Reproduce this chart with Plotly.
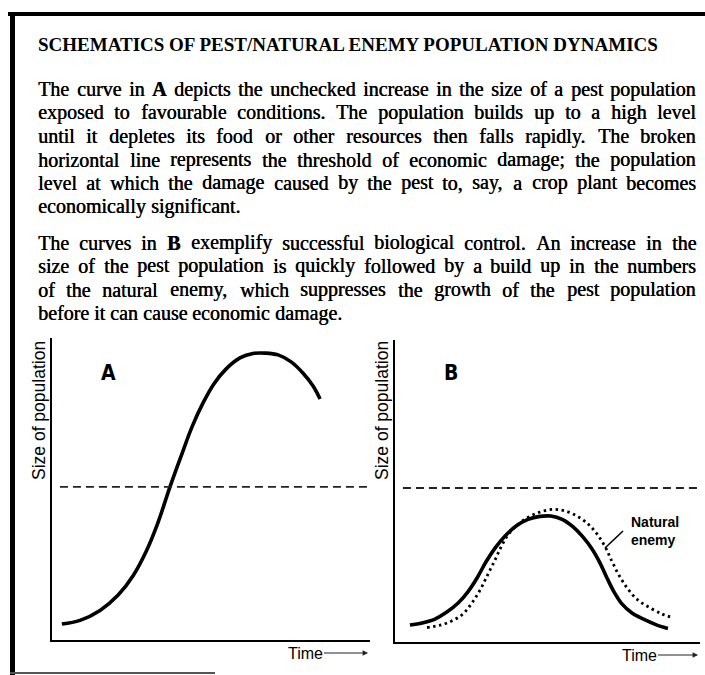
import plotly.graph_objects as go

W, H = 705, 675

# ---------------- data ----------------
# Panel A: unchecked pest population (time and size on a 0-100 scale)
time_a = [3.1, 8.8, 15.1, 20.8, 25.5, 29.6, 33.3, 37.1, 40.6, 44.0, 47.5, 50.9, 54.7, 59.1,
          63.2, 67.0, 71.1, 75.2, 78.9, 82.1, 84.3]
pest_a = [5.3, 6.5, 9.8, 14.9, 21.3, 29.3, 38.8, 50.7, 60.9, 70.5, 78.5, 84.8, 89.7, 93.4,
          94.9, 95.0, 94.4, 92.1, 88.4, 84.1, 79.8]

# Panel B: pest under biological control and its natural enemy
time_b_pest = [4.9, 8.9, 13.1, 17.0, 20.7, 23.9, 26.9, 29.8, 32.8, 36.1, 39.7, 43.6, 47.5,
               51.1, 54.8, 58.4, 61.6, 64.6, 67.2, 69.5, 71.8, 74.4, 77.7, 82.0, 85.9, 89.5]
pest_b = [5.6, 6.3, 7.6, 9.9, 12.9, 16.6, 21.2, 26.5, 31.1, 35.1, 38.4, 40.6, 41.6,
          41.7, 40.6, 38.1, 34.8, 30.8, 26.2, 21.2, 16.6, 12.6, 9.6, 7.3, 5.6, 4.5]
time_b_enemy = [10.5, 14.8, 18.7, 22.3, 25.2, 27.9, 30.5, 32.8, 34.8, 37.0, 39.7, 43.3, 47.5,
                51.8, 55.7, 59.7, 63.3, 66.2, 68.9, 71.1, 73.4, 76.1, 79.3, 83.6, 87.5, 90.2]
enemy_b = [4.8, 5.6, 7.0, 9.3, 12.9, 17.2, 22.5, 27.2, 31.5, 35.4, 38.4, 41.1, 43.0,
           43.9, 43.4, 41.7, 39.1, 35.8, 31.5, 26.8, 22.2, 17.9, 14.2, 11.3, 9.3, 8.3]

# economic damage threshold (same scale) and the span of its broken line
threshold_a = 50.7
threshold_b = 51.0
threshold_span_a = [2.5, 100]
threshold_span_b = [2.6, 100]

title_text = "SCHEMATICS OF PEST/NATURAL ENEMY POPULATION DYNAMICS"
paragraphs = [
    [
        "The curve in <b>A</b> depicts the unchecked increase in the size of a pest population",
        "exposed to favourable conditions. The population builds up to a high level",
        "until it depletes its food or other resources then falls rapidly. The broken",
        "horizontal line represents the threshold of economic damage; the population",
        "level at which the damage caused by the pest to, say, a crop plant becomes",
        "economically significant.",
    ],
    [
        "The curves in <b>B</b> exemplify successful biological control. An increase in the",
        "size of the pest population is quickly followed by a build up in the numbers",
        "of the natural enemy, which suppresses the growth of the pest population",
        "before it can cause economic damage.",
    ],
]
y_label = "Size of population"
x_label = "Time"
enemy_label = "Natural<br>enemy"

# ---------------- helpers ----------------
def px(x):
    return x / W


def py(y):
    return 1 - y / H


# Times advance widths (1/1000 em), used to justify the body text
TIMES = {
    " ": 250, ".": 250, ",": 250, ";": 278, ":": 278, "/": 278, "-": 333,
    "A": 722, "B": 667, "C": 667, "D": 722, "E": 611, "F": 556, "G": 722, "H": 722,
    "I": 333, "J": 389, "K": 722, "L": 611, "M": 889, "N": 722, "O": 722, "P": 556,
    "Q": 722, "R": 667, "S": 556, "T": 611, "U": 722, "V": 722, "W": 944, "X": 722,
    "Y": 722, "Z": 611,
    "a": 444, "b": 500, "c": 444, "d": 500, "e": 444, "f": 333, "g": 500, "h": 500,
    "i": 278, "j": 278, "k": 500, "l": 278, "m": 778, "n": 500, "o": 500, "p": 500,
    "q": 500, "r": 333, "s": 389, "t": 278, "u": 500, "v": 500, "w": 722, "x": 500,
    "y": 500, "z": 444,
}


def word_width(word, size):
    plain = word.replace("<b>", "").replace("</b>", "")
    return sum(TIMES.get(c, 500) for c in plain) * size / 1000.0


SERIF = "Liberation Serif, Times New Roman, serif"
SANS = "Liberation Sans, Arial, Helvetica, sans-serif"
BODY_SIZE = 20
TEXT_LEFT, TEXT_RIGHT = 38, 696
INK = "black"
HEAVY = "0.4px 0 0 black"   # thickens the printed serif text slightly

annotations = []

# heading
annotations.append(dict(
    x=px(TEXT_LEFT), y=py(45), xref="paper", yref="paper", xanchor="left", yanchor="middle",
    text="<b>" + title_text + "</b>", showarrow=False, borderpad=0, borderwidth=0,
    font=dict(family=SERIF, size=19, color=INK),
))

# justified body text, one word per annotation
line_y = [[89, 112.5, 136, 159.5, 183, 206.5], [242.5, 266, 289.5, 313]]
for para, ys in zip(paragraphs, line_y):
    for i, (line, yy) in enumerate(zip(para, ys)):
        words = line.split(" ")
        widths = [word_width(w, BODY_SIZE) for w in words]
        last = i == len(para) - 1
        if last or len(words) == 1:
            gap = 250 * BODY_SIZE / 1000.0
        else:
            gap = (TEXT_RIGHT - TEXT_LEFT - sum(widths)) / (len(words) - 1)
        x = TEXT_LEFT
        for w, ww in zip(words, widths):
            annotations.append(dict(
                x=px(x), y=py(yy), xref="paper", yref="paper", xanchor="left", yanchor="middle",
                text=w, showarrow=False, borderpad=0, borderwidth=0,
                font=dict(family=SERIF, size=BODY_SIZE, color=INK, shadow=HEAVY),
            ))
            x += ww + gap

# ---------------- figure ----------------
fig = go.Figure()

curve_style = dict(color="black", width=3.6, shape="spline", smoothing=1.0)
dash_style = dict(color="#222222", width=1.8, dash="8px,5px")

fig.add_trace(go.Scatter(x=time_a, y=pest_a, mode="lines", line=curve_style,
                         xaxis="x", yaxis="y", hoverinfo="skip"))
fig.add_trace(go.Scatter(x=threshold_span_a, y=[threshold_a, threshold_a], mode="lines",
                         line=dash_style, xaxis="x", yaxis="y", hoverinfo="skip"))

fig.add_trace(go.Scatter(x=time_b_enemy, y=enemy_b, mode="lines",
                         line=dict(color="black", width=2.8, dash="2.5px,3.5px", shape="spline", smoothing=1.0),
                         xaxis="x2", yaxis="y2", hoverinfo="skip"))
fig.add_trace(go.Scatter(x=time_b_pest, y=pest_b, mode="lines", line=curve_style,
                         xaxis="x2", yaxis="y2", hoverinfo="skip"))
fig.add_trace(go.Scatter(x=threshold_span_b, y=[threshold_b, threshold_b], mode="lines",
                         line=dash_style, xaxis="x2", yaxis="y2", hoverinfo="skip"))

axis_common = dict(range=[0, 100], showgrid=False, zeroline=False, showticklabels=False,
                   ticks="", showline=True, linecolor="black", linewidth=2, fixedrange=True)

fig.update_layout(
    width=W, height=H,
    margin=dict(l=0, r=0, t=0, b=0),
    paper_bgcolor="white", plot_bgcolor="rgba(0,0,0,0)",
    showlegend=False,
    xaxis=dict(domain=[px(52), px(370)], anchor="y", **axis_common),
    yaxis=dict(domain=[py(640), py(338)], anchor="x", **axis_common),
    xaxis2=dict(domain=[px(395), px(700)], anchor="y2", **axis_common),
    yaxis2=dict(domain=[py(642), py(340)], anchor="x2", **axis_common),
)

# panel letters
for letter, xx in (("A", 108), ("B", 451)):
    annotations.append(dict(
        x=px(xx), y=py(373), xref="paper", yref="paper", xanchor="center", yanchor="middle",
        text="<b>" + letter + "</b>", showarrow=False,
        font=dict(family="Liberation Sans Narrow, DejaVu Sans Condensed, Arial Narrow, sans-serif",
                  size=21, color="black"),
    ))

# vertical axis labels
for xx in (39, 382):
    annotations.append(dict(
        x=px(xx), y=py(411), xref="paper", yref="paper", xanchor="center", yanchor="middle",
        text=y_label, textangle=-90, showarrow=False, borderpad=0,
        font=dict(family=SANS, size=17.5, color=INK),
    ))

# "Time" with its arrow
for text_cx, head_x, yy in ((305, 368, 653), (639, 698, 655)):
    annotations.append(dict(
        x=px(head_x), y=py(yy), xref="paper", yref="paper",
        ax=text_cx - head_x, ay=0, axref="pixel", ayref="pixel",
        text=x_label, showarrow=True, arrowhead=2, arrowsize=0.9, arrowwidth=1.2,
        arrowcolor="#222222", standoff=0, borderpad=1,
        font=dict(family=SANS, size=16, color=INK),
    ))

# natural enemy label
annotations.append(dict(
    x=px(630), y=py(530.5), xref="paper", yref="paper", xanchor="left", yanchor="middle",
    text="<b>" + enemy_label + "</b>", showarrow=False, align="left", borderpad=0,
    font=dict(family=SANS, size=14, color=INK),
))

shapes = [
    # leader from the label to the enemy curve
    dict(type="line", xref="paper", yref="paper", x0=px(605), y0=py(548), x1=px(623), y1=py(531),
         line=dict(color="black", width=1.6)),
    # page frame
    dict(type="line", xref="paper", yref="paper", x0=px(8), y0=py(14), x1=px(705), y1=py(14),
         line=dict(color="black", width=4)),
    dict(type="line", xref="paper", yref="paper", x0=px(12.5), y0=py(12), x1=px(12.5), y1=py(675),
         line=dict(color="black", width=5)),
    dict(type="line", xref="paper", yref="paper", x0=px(10), y0=py(673), x1=px(215), y1=py(673),
         line=dict(color="#555555", width=2)),
]

fig.update_layout(annotations=annotations, shapes=shapes)
fig.write_html("out.html")
